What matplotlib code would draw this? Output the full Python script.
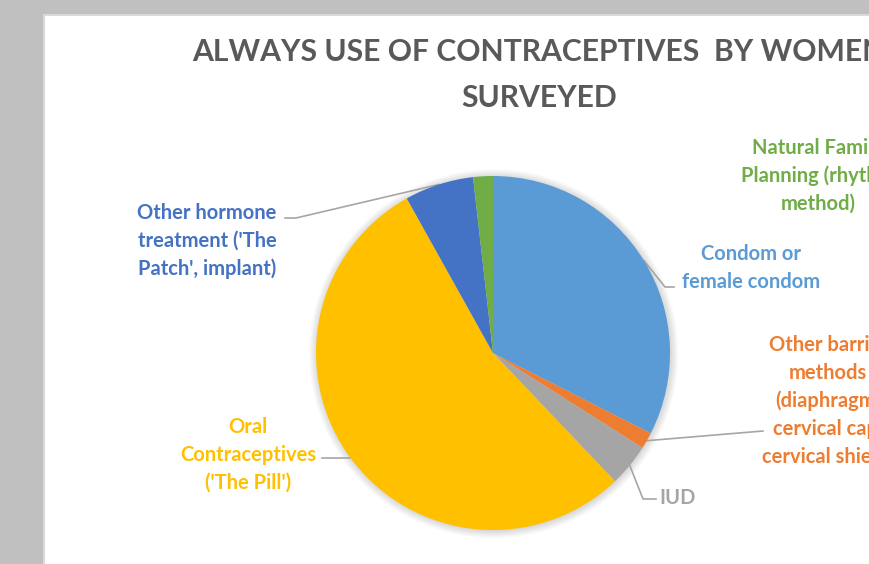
import numpy as np
import matplotlib
matplotlib.use('Agg')
import matplotlib.pyplot as plt
import matplotlib.patches as patches

# data (percent of women)
methods = ['Condom or\nfemale condom',
           'Other barrier\nmethods\n(diaphragm,\ncervical cap,\ncervical shield)',
           'IUD',
           "Oral\nContraceptives\n('The Pill')",
           "Other hormone\ntreatment ('The\nPatch', implant)",
           'Natural Family\nPlanning (rhythm\nmethod)']
shares = [32.5, 1.5, 3.9, 54.0, 6.3, 1.8]
colors = ['#5B9BD5', '#ED7D31', '#A5A5A5', '#FFC000', '#4472C4', '#70AD47']
title = 'ALWAYS USE OF CONTRACEPTIVES  BY WOMEN\nSURVEYED'

W, H = 870, 564
cx, cy, R = 493, 353, 177   # pie centre/radius in pixels

fig = plt.figure(figsize=(W / 100, H / 100), dpi=100, facecolor='#c0c0c0')

# white chart panel
fig.patches.append(patches.Rectangle((44 / W, -0.01), 1, 1.01 - 15 / H, transform=fig.transFigure,
                                     facecolor='white', edgecolor='#d9d9d9', lw=1.5, zorder=-5))

fig.text(539 / W, 1 - 75 / H, title, ha='center', va='center', fontsize=21.7, fontweight='bold',
         color='#595959', family='Lato', linespacing=1.77)

ax = fig.add_axes([(cx - R) / W, (H - cy - R) / H, 2 * R / W, 2 * R / H])
ax.axis('off')

# soft shadow round the pie
for k in range(8):
    ax.add_patch(patches.Circle((0.004, -0.004), 1.0 + 0.006 * k, facecolor='black',
                                alpha=0.018, lw=0, zorder=0, clip_on=False))

wedges, _ = ax.pie(shares, colors=colors, startangle=90, counterclock=False, radius=1,
                   wedgeprops=dict(lw=0))
for w in wedges:
    w.set_zorder(2)
    w.set_clip_on(False)
ax.set_xlim(-1, 1)
ax.set_ylim(-1, 1)


def d(px, py):
    return (px - cx) / R, (cy - py) / R


# label centres and leader paths (pixels)
label_pos = [(751, 268), (828, 401), (678, 498), (248, 455), (207, 241), (818, 176)]
leaders = [[(665, 287), (674, 287)],
           [(763, 431)],
           [(643, 499), (656, 499)],
           [(333, 458), (322, 458)],
           [(296, 218), (285, 218)],
           None]

for w, name, col, pos, path in zip(wedges, methods, colors, label_pos, leaders):
    tx, ty = d(*pos)
    ax.text(tx, ty, name, ha='center', va='center', fontsize=14.5, fontweight='bold',
            color=col, family='Lato', linespacing=1.48, clip_on=False)
    if path is None:
        continue
    mid = np.deg2rad((w.theta1 + w.theta2) / 2)
    xs = [np.cos(mid)] + [d(*p)[0] for p in path]
    ys = [np.sin(mid)] + [d(*p)[1] for p in path]
    ax.plot(xs, ys, color='#a6a6a6', lw=1.2, clip_on=False, zorder=1)

fig.savefig('out.png', dpi=100, facecolor=fig.get_facecolor())
